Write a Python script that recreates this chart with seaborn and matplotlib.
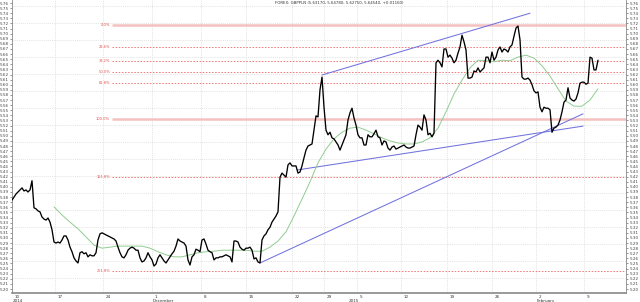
import numpy as np
import pandas as pd
import matplotlib
matplotlib.use("Agg")
import matplotlib.pyplot as plt
import matplotlib.transforms as mtransforms
import seaborn as sns

# ---------------- data ----------------
title_text = "FOREX: GBPPLN (5.63170, 5.64780, 5.62750, 5.64540, +0.01160)"

close = [
    5.374, 5.380, 5.386, 5.390, 5.394, 5.398, 5.392, 5.394, 5.390, 5.394,
    5.412, 5.359, 5.357, 5.353, 5.351, 5.341, 5.337, 5.335, 5.339, 5.331,
    5.316, 5.292, 5.290, 5.292, 5.290, 5.296, 5.304, 5.304, 5.296, 5.282,
    5.273, 5.261, 5.255, 5.251, 5.271, 5.273, 5.269, 5.271, 5.263, 5.267,
    5.265, 5.265, 5.271, 5.296, 5.308, 5.310, 5.308, 5.306, 5.304, 5.302,
    5.300, 5.298, 5.294, 5.282, 5.271, 5.263, 5.261, 5.267, 5.276, 5.280,
    5.282, 5.280, 5.276, 5.276, 5.261, 5.253, 5.255, 5.261, 5.271, 5.263,
    5.257, 5.245, 5.249, 5.261, 5.267, 5.261, 5.255, 5.251, 5.257, 5.263,
    5.269, 5.274, 5.284, 5.298, 5.294, 5.292, 5.290, 5.284, 5.257, 5.247,
    5.263, 5.267, 5.278, 5.276, 5.273, 5.296, 5.298, 5.288, 5.276, 5.273,
    5.271, 5.257, 5.261, 5.261, 5.263, 5.263, 5.265, 5.267, 5.265, 5.263,
    5.253, 5.294, 5.294, 5.292, 5.282, 5.278, 5.276, 5.280, 5.280, 5.282,
    5.276, 5.259, 5.261, 5.253, 5.251, 5.296, 5.304, 5.308, 5.316, 5.321,
    5.331, 5.337, 5.343, 5.351, 5.419, 5.427, 5.423, 5.419, 5.443, 5.447,
    5.441, 5.441, 5.441, 5.427, 5.429, 5.441, 5.457, 5.472, 5.480, 5.482,
    5.484, 5.511, 5.539, 5.537, 5.590, 5.615, 5.556, 5.511, 5.502, 5.507,
    5.496, 5.494, 5.488, 5.482, 5.472, 5.482, 5.492, 5.502, 5.531, 5.545,
    5.554, 5.535, 5.521, 5.502, 5.496, 5.496, 5.482, 5.482, 5.502, 5.498,
    5.498, 5.504, 5.511, 5.498, 5.496, 5.482, 5.490, 5.488, 5.476, 5.472,
    5.478, 5.480, 5.474, 5.476, 5.478, 5.480, 5.482, 5.478, 5.476, 5.476,
    5.478, 5.480, 5.502, 5.521, 5.517, 5.511, 5.541, 5.531, 5.502, 5.505,
    5.498, 5.505, 5.643, 5.648, 5.643, 5.635, 5.670, 5.670, 5.654, 5.658,
    5.652, 5.643, 5.648, 5.662, 5.674, 5.697, 5.684, 5.668, 5.613, 5.613,
    5.615, 5.627, 5.625, 5.633, 5.625, 5.629, 5.633, 5.654, 5.654, 5.643,
    5.664, 5.648, 5.654, 5.668, 5.674, 5.664, 5.670, 5.668, 5.664, 5.674,
    5.678, 5.695, 5.711, 5.715, 5.688, 5.615, 5.611, 5.611, 5.613, 5.609,
    5.600, 5.588, 5.584, 5.586, 5.556, 5.547, 5.556, 5.554, 5.554, 5.551,
    5.507, 5.515, 5.517, 5.521, 5.531, 5.547, 5.566, 5.570, 5.594, 5.574,
    5.570, 5.568, 5.572, 5.584, 5.603, 5.605, 5.605, 5.601, 5.603, 5.654,
    5.652, 5.629, 5.629, 5.648,
]

ma_start = 21
ma_step = 4
ma_values = [
    5.361, 5.345, 5.331, 5.318, 5.302, 5.286, 5.280, 5.282, 5.284, 5.284,
    5.284, 5.284, 5.280, 5.273, 5.267, 5.263, 5.263, 5.267, 5.271, 5.273,
    5.274, 5.276, 5.276, 5.276, 5.276, 5.274, 5.274, 5.282, 5.294, 5.312,
    5.343, 5.376, 5.410, 5.447, 5.474, 5.494, 5.507, 5.515, 5.517, 5.511,
    5.504, 5.496, 5.490, 5.486, 5.484, 5.484, 5.488, 5.496, 5.515, 5.547,
    5.582, 5.609, 5.633, 5.648, 5.647, 5.645, 5.648, 5.647, 5.654, 5.658,
    5.652, 5.637, 5.617, 5.592, 5.568, 5.558, 5.558, 5.570, 5.592,
]

fib_high = 5.717
fib_low = 5.533
fib_ratios = [0.0, 0.236, 0.382, 0.5, 0.618, 1.0, 1.618, 2.618]
fib_labels = ["0.0%", "23.6%", "38.2%", "50.0%", "61.8%", "100.0%", "161.8%", "261.8%"]
fib_start = 50

trend_x = [[124, 285.5], [142.5, 285.5], [155, 259]]
trend_y = [[5.251, 5.543], [5.433, 5.519], [5.619, 5.740]]

date_pos = [0, 21.5, 45.5, 70, 94.5, 117, 140, 156, 172.5, 194.5, 217.5, 240, 262, 286]
date_labels = ["10", "17", "24", "1", "8", "15", "22", "29", "5", "12", "19", "26", "2", "9"]
period_pos = [0, 70, 168, 262]
period_labels = ["2014", "December", "2015", "February"]

y_ticks = [round(5.20 + 0.01 * k, 2) for k in range(57)]

# ---------------- figure ----------------
sns.set_theme(style="white")
plt.rcParams["font.family"] = ["DejaVu Sans"]

fig = plt.figure(figsize=(6.4, 3.02), dpi=100)
fig.patch.set_facecolor("white")
ax = fig.add_axes([12 / 640, 9 / 302, 614 / 640, 293 / 302])
ax.set_facecolor("white")

y_top, y_bot = 5.7659, 5.1922
x_max = 307
ax.set_xlim(0, x_max)
ax.set_ylim(y_bot, y_top)

# grid
px_per_unit = 293 / (y_top - y_bot)
for k in range(17):
    yv = y_top - (6 + 17 * k) / px_per_unit
    ax.axhline(yv, color="#d9d9d9", lw=0.5, ls=(0, (1.5, 1.5)), zorder=0)
for p in date_pos[1:]:
    ax.axvline(p, color="#d9d9d9", lw=0.5, ls=(0, (1.5, 1.5)), zorder=0)

# fibonacci levels
rng = fib_high - fib_low
for r, lab in zip(fib_ratios, fib_labels):
    lv = fib_high - r * rng
    if r in (0.0, 1.0):
        ax.hlines(lv, fib_start, x_max, color="#f4c0c0", lw=1.8, zorder=1)
    else:
        ax.hlines(lv, fib_start, x_max, color="#f07c7c", lw=0.7,
                  linestyles=(0, (1.6, 1.6)), zorder=1)
    ax.text(fib_start - 1, lv, lab, color="#e05050", fontsize=2.6,
            ha="right", va="center")

# trend lines
tl = pd.DataFrame({
    "x": [v for pair in trend_x for v in pair],
    "y": [v for pair in trend_y for v in pair],
    "line": [i for i, pair in enumerate(trend_x) for _ in pair],
})
sns.lineplot(data=tl, x="x", y="y", units="line", estimator=None,
             color="#7272de", lw=0.75, ax=ax, zorder=2)

# moving average
ma_df = pd.DataFrame({"x": [ma_start + ma_step * i for i in range(len(ma_values))],
                      "y": ma_values})
sns.lineplot(data=ma_df, x="x", y="y", color="#90cc90", lw=0.7, ax=ax, zorder=3)

# price
pr = pd.DataFrame({"x": np.arange(len(close)), "y": close})
sns.lineplot(data=pr, x="x", y="y", color="black", lw=0.95, ax=ax, zorder=4)

ax.set_xlabel("")
ax.set_ylabel("")

# axes styling
ax.spines["top"].set_visible(False)
for s in ["left", "right", "bottom"]:
    ax.spines[s].set_visible(True)
    ax.spines[s].set_color("#888888")
    ax.spines[s].set_linewidth(0.6)
ax.spines["bottom"].set_linewidth(1.2)

ax.set_yticks(y_ticks)
ax.set_yticklabels([f"{v:.2f}" for v in y_ticks])
ax.tick_params(axis="y", which="major", labelsize=3, length=1.5, width=0.4,
               pad=0.8, colors="#444444", left=True, right=True,
               labelleft=True, labelright=True)
ax.set_xticks(date_pos)
ax.set_xticklabels([])
ax.tick_params(axis="x", length=2, width=0.5, colors="#555555", direction="out")

trans = mtransforms.blended_transform_factory(ax.transData, ax.transAxes)
for p, lab in zip(date_pos, date_labels):
    ax.text(p + 1.2, -0.012, lab, transform=trans, fontsize=3, ha="left",
            va="center", color="#333333", clip_on=False)
for p, lab in zip(period_pos, period_labels):
    ax.text(p + 0.5, -0.026, lab, transform=trans, fontsize=3, ha="left",
            va="center", color="#333333", clip_on=False)

fig.text(275 / 640, 1 - 3 / 302, title_text, fontsize=2.8, ha="left",
         va="center", color="#333333")

fig.savefig("out.png", dpi=100, facecolor="white")
